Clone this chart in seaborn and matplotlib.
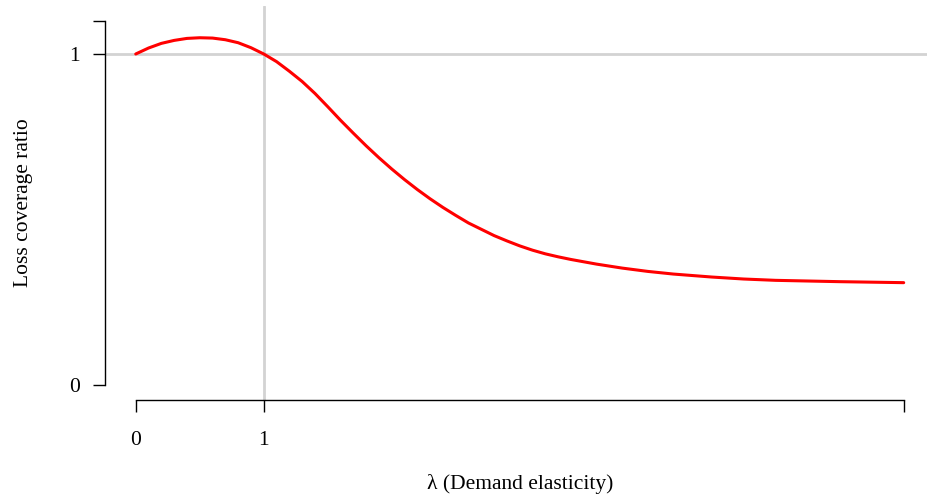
import numpy as np
import pandas as pd
import matplotlib
matplotlib.use("Agg")
import matplotlib.pyplot as plt
import seaborn as sns

# curve (demand elasticity vs loss coverage ratio)
elasticity = [0.0, 0.1, 0.2, 0.3, 0.4, 0.5, 0.6, 0.7, 0.8, 0.9,
              1.0, 1.1, 1.2, 1.3, 1.4, 1.5, 1.6, 1.7, 1.8, 1.9,
              2.0, 2.1, 2.2, 2.3, 2.4, 2.5, 2.6, 2.7, 2.8, 2.9,
              3.0, 3.1, 3.2, 3.3, 3.4, 3.5, 3.6, 3.7, 3.8, 3.9,
              4.0, 4.2, 4.5, 4.75, 5.0, 5.5, 6.0]
coverage = [1.0, 1.018, 1.032, 1.041, 1.047, 1.049, 1.048, 1.043, 1.034, 1.019,
            1.0, 0.977, 0.948, 0.917, 0.881, 0.841, 0.800, 0.761, 0.723, 0.687,
            0.653, 0.621, 0.591, 0.563, 0.537, 0.513, 0.490, 0.471, 0.452, 0.436,
            0.421, 0.408, 0.397, 0.388, 0.380, 0.373, 0.366, 0.360, 0.354, 0.349,
            0.344, 0.336, 0.327, 0.321, 0.317, 0.313, 0.310]

x_ticks = [0, 1, 6]
x_labels = ['0', '1', '']
y_ticks = [0, 1, 1.1]
y_labels = ['0', '1', '']

df = pd.DataFrame({'lam': elasticity, 'ratio': coverage})

sns.set_theme(style="white")
plt.rcParams['font.family'] = ['Liberation Serif', 'DejaVu Serif']

fig = plt.figure(figsize=(9.27, 4.97), dpi=100)
ax = fig.add_axes([0.1133, 0.1952, 0.8947, 0.7922])

# reference lines at 1
ax.axhline(1, color='#d3d3d3', lw=2, zorder=1)
ax.axvline(1, color='#d3d3d3', lw=2, zorder=1)

sns.lineplot(data=df, x='lam', y='ratio', color='red', lw=2.2, ax=ax, zorder=3)

ax.set_xlim(-0.24, 6.24)
ax.set_ylim(-0.044, 1.144)

for s in ['top', 'right']:
    ax.spines[s].set_visible(False)
for s in ['left', 'bottom']:
    ax.spines[s].set_color('black')
    ax.spines[s].set_linewidth(1.0)
ax.spines['bottom'].set_bounds(0, 6)
ax.spines['left'].set_bounds(0, 1.1)

ax.set_xticks(x_ticks)
ax.set_xticklabels(x_labels)
ax.set_yticks(y_ticks)
ax.set_yticklabels(y_labels)
ax.tick_params(axis='both', direction='out', length=8.6, width=1.0, color='black',
               labelsize=15.5, labelcolor='black')
ax.tick_params(axis='x', pad=14)
ax.tick_params(axis='y', pad=9.5)
ax.tick_params(left=True, bottom=True)

ax.set_xlabel('λ (Demand elasticity)', fontsize=15.5, labelpad=17, color='black')
ax.set_ylabel('Loss coverage ratio', fontsize=15.5, labelpad=26, color='black')
ax.grid(False)

fig.savefig('out.png', dpi=100)
